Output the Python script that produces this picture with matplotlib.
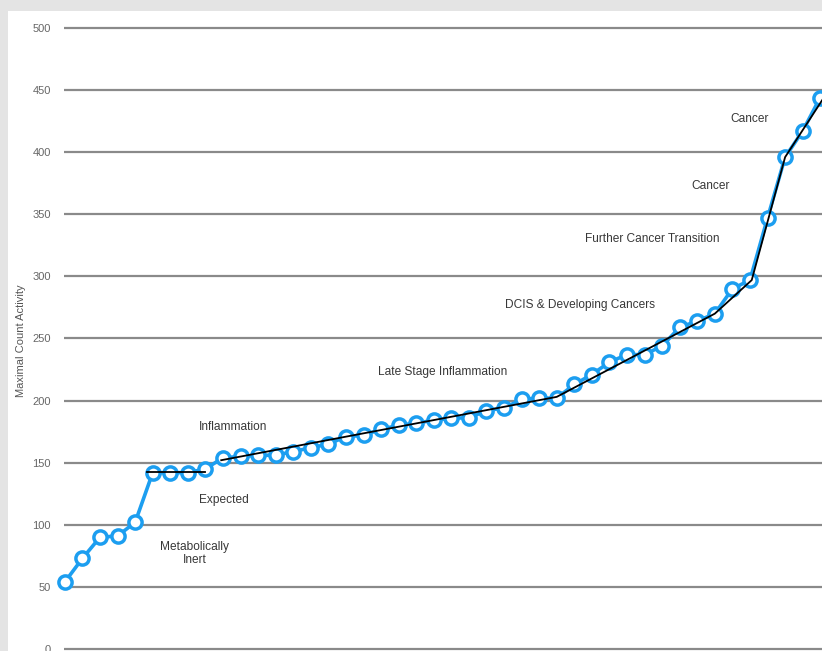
import matplotlib.pyplot as plt
from matplotlib.patches import Rectangle

plt.rcParams['font.family'] = ['Liberation Sans', 'DejaVu Sans']

# measured activity, sorted ascending
activity = [54, 73, 90, 91, 102, 142, 142, 142, 145, 154, 155, 156, 156, 159,
            162, 165, 171, 172, 177, 180, 182, 184, 186, 186, 192, 194, 201,
            202, 202, 213, 221, 231, 237, 237, 244, 259, 264, 270, 290, 297,
            347, 396, 417, 444]

# hand drawn trend lines (x in sample index)
flat_x = [4.7, 8.0]
flat_y = [142.5, 142.5]
trend_x = [8.9, 28.0, 37.0, 39.1, 41.0, 43.3]
trend_y = [152, 203, 270, 297, 396, 446]

yticks = [0, 50, 100, 150, 200, 250, 300, 350, 400, 450, 500]

# (text, x index, y value)
notes = [
    ("Cancer", 38.96, 427),
    ("Cancer", 36.75, 373),
    ("Further Cancer Transition", 33.45, 330),
    ("DCIS & Developing Cancers", 29.3, 277),
    ("Late Stage Inflammation", 21.5, 223),
    ("Inflammation", 9.6, 178.5),
    ("Expected", 9.05, 120),
    ("Metabolically\nInert", 7.4, 77),
]

fig = plt.figure(figsize=(8.22, 6.51), dpi=100)
fig.patch.set_facecolor('#e4e4e4')
# white panel behind the chart
fig.patches.append(Rectangle((8 / 822, 0), 1, 1 - 11 / 651, transform=fig.transFigure,
                             facecolor='white', edgecolor='none', zorder=-5))

ax = fig.add_axes([64 / 822, 0, 1 - 64 / 822, 631 / 651])
ax.set_facecolor('none')
ax.set_zorder(2)

x = list(range(len(activity)))
ax.plot(x, activity, color='#1c9ef0', lw=2.6, marker='o', ms=9.5,
        mfc='white', mec='#1c9ef0', mew=2.5, zorder=3, clip_on=False)
ax.plot(flat_x, flat_y, color='black', lw=1.3, zorder=4)
ax.plot(trend_x, trend_y, color='black', lw=1.3, zorder=4)

for txt, tx, ty in notes:
    ax.text(tx, ty, txt, ha='center', va='center', fontsize=8.6,
            color='#383838', linespacing=1.1)

ax.set_xlim(-0.05, 43.1)
ax.set_ylim(-1.6, 506.4)
ax.set_yticks(yticks)
ax.set_xticks([])
ax.yaxis.grid(True, color='#8a8a8a', lw=1.6)
ax.set_axisbelow(True)
ax.tick_params(axis='y', length=0, pad=9.5, labelsize=8, labelcolor='#666666')
for s in ax.spines.values():
    s.set_visible(False)

fig.text(21 / 822, 1 - 341 / 651, 'Maximal Count Activity', rotation=90,
         ha='center', va='center', fontsize=8, color='#555555')

fig.savefig('out.png', dpi=100, facecolor=fig.get_facecolor())
